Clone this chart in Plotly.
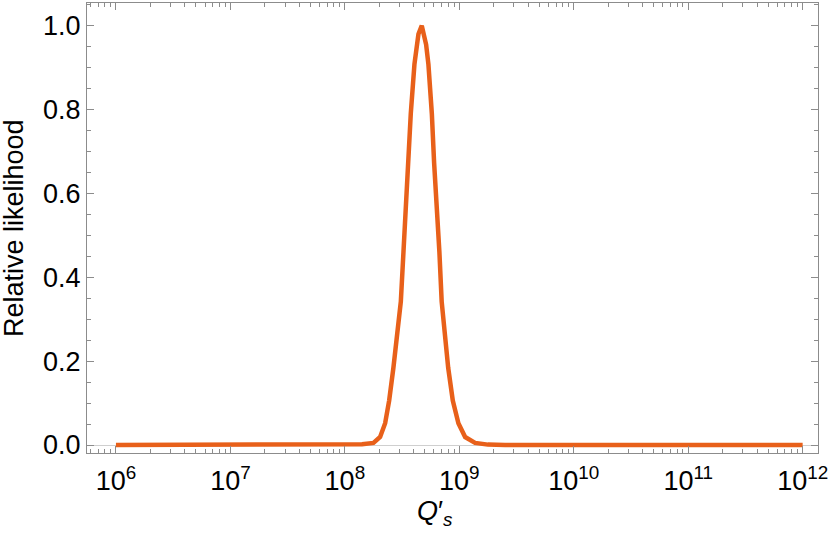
import plotly.graph_objects as go

# log10(Q's) sample positions and relative likelihood
log_q = [6.0, 7.0, 7.8, 8.0, 8.15, 8.25, 8.308, 8.352, 8.387, 8.424, 8.459, 8.489,
         8.512, 8.535, 8.553, 8.576, 8.608, 8.643, 8.672, 8.710, 8.730, 8.760,
         8.780, 8.803, 8.826, 8.846, 8.872, 8.903, 8.943, 8.992, 9.051, 9.138,
         9.25, 9.4, 10.0, 11.0, 12.0]
likelihood = [0.0, 0.0, 0.0, 0.0005, 0.002, 0.005, 0.019, 0.052, 0.106, 0.184, 0.264, 0.342,
              0.46, 0.578, 0.68, 0.79, 0.908, 0.98, 1.0, 0.955, 0.908, 0.79,
              0.672, 0.578, 0.46, 0.342, 0.264, 0.184, 0.106, 0.052, 0.019, 0.005,
              0.001, 0.0, 0.0, 0.0, 0.0]

x_tick_vals = [1e6, 1e7, 1e8, 1e9, 1e10, 1e11, 1e12]
x_tick_text = ["10<sup>6</sup>", "10<sup>7</sup>", "10<sup>8</sup>", "10<sup>9</sup>",
               "10<sup>10</sup>", "10<sup>11</sup>", "10<sup>12</sup>"]
y_tick_vals = [0.0, 0.2, 0.4, 0.6, 0.8, 1.0]

x_title = "<i>Q</i>′<sub><i>s</i></sub>"
y_title = "Relative likelihood"

q_values = [10 ** v for v in log_q]

FONT = "Liberation Sans, Arial, Helvetica, sans-serif"
AX = "#8c8c8c"
FS = 27

fig = go.Figure()
fig.add_trace(go.Scatter(
    x=q_values, y=likelihood, mode="lines",
    line=dict(color="#E8601A", width=4.5, shape="linear"),
    hoverinfo="skip", showlegend=False,
))

fig.update_layout(
    width=830, height=533,
    margin=dict(l=87, r=12, t=3, b=80, autoexpand=False),
    paper_bgcolor="white", plot_bgcolor="white",
    font=dict(family=FONT, size=FS, color="black"),
)

fig.update_xaxes(
    type="log", range=[5.747, 12.134], automargin=False,
    tickvals=x_tick_vals, ticktext=x_tick_text,
    ticks="inside", ticklen=7, tickwidth=1, tickcolor=AX,
    minor=dict(ticks="inside", ticklen=4, tickwidth=1, tickcolor=AX, dtick="D1", showgrid=False),
    showline=True, linecolor=AX, linewidth=1, mirror="ticks",
    showgrid=False, zeroline=False, ticklabelstandoff=4,
    tickfont=dict(size=FS, color="black"),
)
fig.update_yaxes(
    range=[-0.019, 1.054], automargin=False,
    tickvals=y_tick_vals, tickformat=".1f",
    ticks="inside", ticklen=7, tickwidth=1, tickcolor=AX,
    minor=dict(ticks="inside", ticklen=4, tickwidth=1, tickcolor=AX, dtick=0.05, showgrid=False),
    showline=True, linecolor=AX, linewidth=1, mirror="ticks",
    showgrid=False, zeroline=True, zerolinecolor="#cfcfcf", zerolinewidth=1,
    tickfont=dict(size=FS, color="black"),
)

fig.add_annotation(text=x_title, xref="paper", yref="paper",
                   x=(435 - 87) / 731, y=(453 - 513) / 450,
                   xanchor="center", yanchor="middle", showarrow=False,
                   font=dict(size=FS, color="black"))
fig.add_annotation(text=y_title, xref="paper", yref="paper",
                   x=(14 - 87) / 731, y=0.5, textangle=-90,
                   xanchor="center", yanchor="middle", showarrow=False,
                   font=dict(size=FS, color="black"))

fig.write_html(
    "out.html",
    config={"displayModeBar": False, "staticPlot": True},
    post_script="document.body.style.margin='0';document.body.style.overflow='hidden';",
)
